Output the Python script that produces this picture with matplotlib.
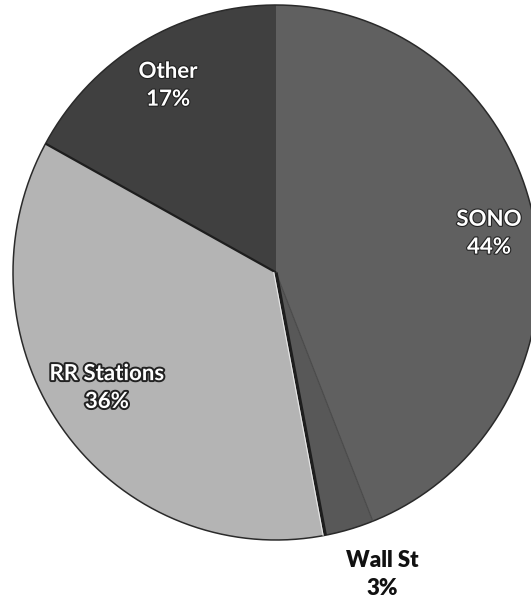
import numpy as np
import matplotlib
matplotlib.use("Agg")
import matplotlib.pyplot as plt
import matplotlib.patheffects as pe

categories = ["SONO", "Wall St", "RR Stations", "Other"]
shares = [44, 3, 36, 17]
colors = ["#606060", "#585858", "#b4b4b4", "#404040"]

fig = plt.figure(figsize=(5.31, 6.03), dpi=100)
fig.patch.set_facecolor("white")
# pie box: x from 13 to 539 px, y from 5 to 540 px (top-origin)
W, H = 531, 603
ax = fig.add_axes([13 / W, (H - 540) / H, 526 / W, 535 / H])

wedges, _ = ax.pie(shares, colors=colors, startangle=90, counterclock=False,
                   radius=1, wedgeprops=dict(linewidth=0, edgecolor="none"),
                   frame=False)
ax.set_xlim(-1, 1)
ax.set_ylim(-1, 1)
ax.set_aspect("auto")
ax.axis("off")

# outer outline
t = np.linspace(0, 2 * np.pi, 400)
ax.plot(np.cos(t), np.sin(t), color="#2a2a2a", lw=1.1, clip_on=False)

# radial boundaries
bounds = 90 - np.cumsum([0] + shares) * 3.6
line_styles = {1: ("#4a4a4a", 0.9), 2: ("#1e1e1e", 2.4), 3: ("#1e1e1e", 1.6)}
for i, (c, lw) in line_styles.items():
    a = np.deg2rad(bounds[i])
    ax.plot([0, np.cos(a)], [0, np.sin(a)], color=c, lw=lw, solid_capstyle="butt")
# light highlight along RR/Wall St edge
a = np.deg2rad(bounds[2])
ax.plot([0, np.cos(a)], [0, np.sin(a)], color="#e8e8e8", lw=0.8,
        transform=ax.transData + matplotlib.transforms.ScaledTranslation(-2.2 / 100, 0, fig.dpi_scale_trans))

font = "Lato"
label_pos = {"SONO": (0.81, 0.147), "Wall St": (0.403, -1.13),
             "RR Stations": (-0.643, -0.43), "Other": (-0.41, 0.70)}
for cat, val in zip(categories, shares):
    x, y = label_pos[cat]
    txt = f"{cat}\n{val}%"
    if cat == "Wall St":
        ax.text(x, y, txt, ha="center", va="center", fontsize=16, fontweight="heavy",
                family=font, color="#111111", linespacing=1.4, clip_on=False)
    else:
        stroke = 2.8 if cat == "RR Stations" else 1.6
        ax.text(x, y, txt, ha="center", va="center", fontsize=16, fontweight="bold",
                family=font, color="white", linespacing=1.4,
                path_effects=[pe.withStroke(linewidth=stroke, foreground="#222222")])

fig.savefig("out.png", dpi=100, facecolor="white")
